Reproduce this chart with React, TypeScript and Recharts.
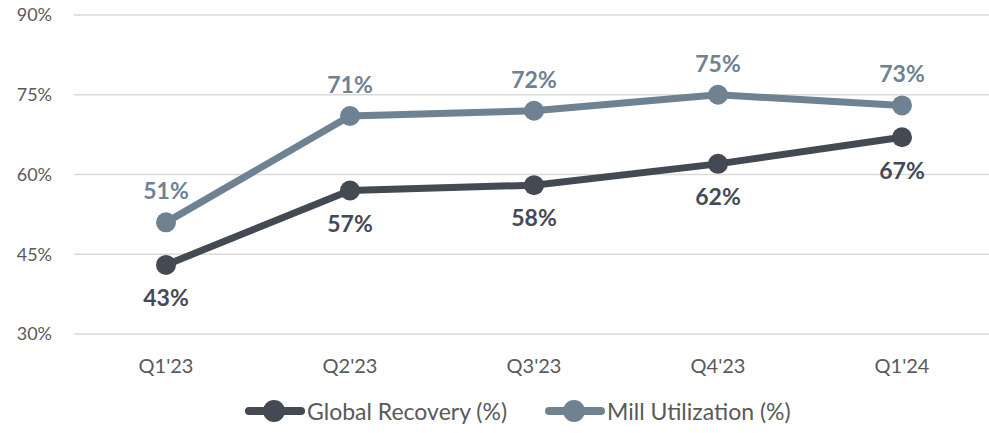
import { LineChart, Line, XAxis, YAxis, CartesianGrid, Legend, LabelList } from 'recharts';

const quarters = ["Q1'23", "Q2'23", "Q3'23", "Q4'23", "Q1'24"];
const globalRecovery = [43, 57, 58, 62, 67];
const millUtilization = [51, 71, 72, 75, 73];
const yTicks = [30, 45, 60, 75, 90];

const data = quarters.map((q, i) => ({
    quarter: q,
    recovery: globalRecovery[i],
    mill: millUtilization[i],
}));

const DARK = '#434a53';
const LIGHT = '#6e8292';
const FONT = 'Lato, "Open Sans", sans-serif';

function LegendContent() {
    const items = [
        { label: 'Global Recovery (%)', color: DARK },
        { label: 'Mill Utilization (%)', color: LIGHT },
    ];
    return (
        <div style={{ display: 'flex', alignItems: 'center', height: 44, paddingLeft: 245, fontFamily: FONT, fontSize: 23, color: '#595959' }}>
            {items.map((it, i) => (
                <div key={it.label} style={{ display: 'flex', alignItems: 'center', marginRight: i === 0 ? 38 : 0 }}>
                    <svg width={60} height={26} style={{ marginRight: 2 }}>
                        <line x1={4} y1={13} x2={56} y2={13} stroke={it.color} strokeWidth={8} strokeLinecap="round" />
                        <circle cx={29} cy={13} r={11} fill={it.color} />
                    </svg>
                    <span>{it.label}</span>
                </div>
            ))}
        </div>
    );
}

export default function App() {
    return (
        <div style={{ position: 'absolute', left: 0, top: 0, width: 989, height: 433, overflow: 'hidden', background: '#fff' }}>
            <LineChart width={994} height={433} data={data} margin={{ top: 15, right: 0, bottom: 0, left: 0 }}>
                <CartesianGrid vertical={false} stroke="#d9d9d9" strokeWidth={1.5} />
                <XAxis
                    dataKey="quarter"
                    axisLine={false}
                    tickLine={false}
                    tickSize={0}
                    tickMargin={25}
                    height={55}
                    padding={{ left: 92, right: 92 }}
                    tick={{ fill: '#595959', fontSize: 20, fontFamily: FONT }}
                />
                <YAxis
                    domain={[30, 90]}
                    ticks={yTicks}
                    tickFormatter={(v) => `${v}%`}
                    axisLine={false}
                    tickLine={false}
                    tickSize={0}
                    tickMargin={22}
                    width={74}
                    tick={{ fill: '#595959', fontSize: 18, fontFamily: FONT }}
                />
                <Legend verticalAlign="bottom" height={44} content={<LegendContent />} />
                <Line
                    dataKey="recovery"
                    name="Global Recovery (%)"
                    stroke={DARK}
                    strokeWidth={7}
                    dot={{ r: 10, fill: DARK, stroke: DARK, strokeWidth: 0 }}
                    isAnimationActive={false}
                >
                    <LabelList
                        dataKey="recovery"
                        position="bottom"
                        offset={25}
                        formatter={(v: number) => `${v}%`}
                        style={{ fill: DARK, fontSize: 23, fontWeight: 700, fontFamily: FONT }}
                    />
                </Line>
                <Line
                    dataKey="mill"
                    name="Mill Utilization (%)"
                    stroke={LIGHT}
                    strokeWidth={7}
                    dot={{ r: 10, fill: LIGHT, stroke: LIGHT, strokeWidth: 0 }}
                    isAnimationActive={false}
                >
                    <LabelList
                        dataKey="mill"
                        position="top"
                        offset={23}
                        formatter={(v: number) => `${v}%`}
                        style={{ fill: LIGHT, fontSize: 23, fontWeight: 700, fontFamily: FONT }}
                    />
                </Line>
            </LineChart>
        </div>
    );
}
